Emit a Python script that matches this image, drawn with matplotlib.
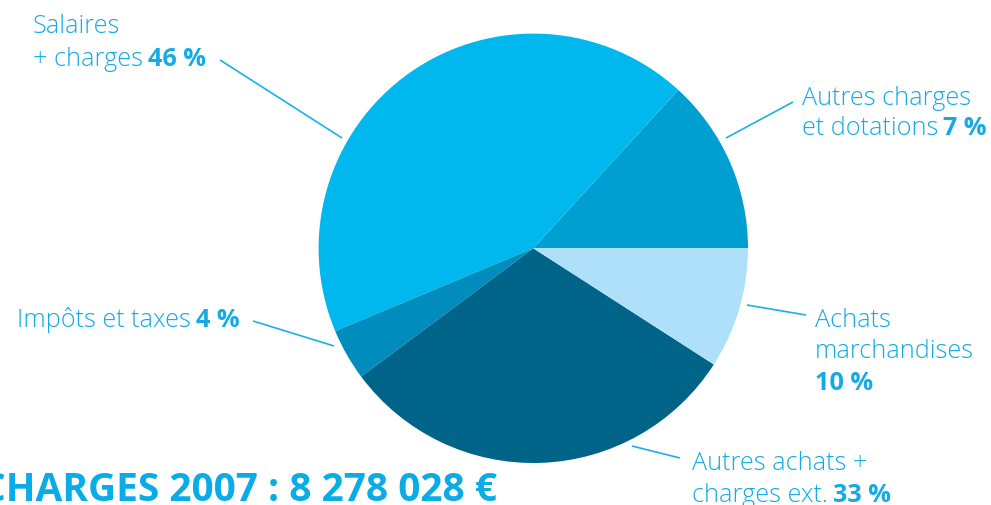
import matplotlib
matplotlib.use("Agg")
import matplotlib.pyplot as plt
from matplotlib.font_manager import FontProperties

# ---- data ----
categories = ["Autres charges et dotations", "Salaires + charges", "Impôts et taxes",
              "Autres achats + charges ext.", "Achats marchandises"]
drawn_shares = [13.2, 43.1, 3.9, 30.7, 9.1]      # slice sizes as drawn in the picture
label_pcts = ["7 %", "46 %", "4 %", "33 %", "10 %"]
colors = ["#009FD1", "#00B8EE", "#008DBD", "#006488", "#AEE0F9"]
title = "CHARGES 2007 : 8 278 028 €"

W, H = 991, 506
TXT = "#14AAE5"
LINE = "#19B1EA"

fig = plt.figure(figsize=(W / 100, H / 100), dpi=100)
ax = fig.add_axes([0, 0, 1, 1])
wedges, _ = ax.pie(drawn_shares, colors=colors, startangle=0, counterclock=True,
                   center=(533.3, H - 249.3), radius=214.7,
                   wedgeprops=dict(linewidth=0))
ax.set_xlim(0, W)
ax.set_ylim(0, H)
ax.set_aspect("auto")
ax.axis("off")

light = FontProperties(family="Open Sans", weight="light", size=18.2)
bold = FontProperties(family="Open Sans", weight="bold", size=18.2)
titlefp = FontProperties(family="Open Sans", weight="bold", size=28)

renderer = fig.canvas.get_renderer()


def mixed(x, y, lt=None, bt=None, gap=5):
    yy = H - y
    cx = x
    if lt:
        t = ax.text(cx, yy, lt, fontproperties=light, color=TXT, va="baseline", ha="left")
        bb = t.get_window_extent(renderer)
        cx = bb.x1 + gap
    if bt:
        ax.text(cx, yy, bt, fontproperties=bold, color=TXT, va="baseline", ha="left")


def leader(x1, y1, x2, y2):
    ax.plot([x1, x2], [H - y1, H - y2], color=LINE, lw=1.2, solid_capstyle="butt")


# Salaires
mixed(33, 33, "Salaires")
mixed(33, 66, "+ charges", label_pcts[1])
leader(220, 61, 342, 139)

# Autres charges et dotations
mixed(802, 105, "Autres charges")
mixed(802, 135, "et dotations", label_pcts[0])
leader(793, 103, 726, 139)

# Impôts et taxes
mixed(17, 327, "Impôts et taxes", label_pcts[2])
leader(253, 322, 334, 347)

# Achats marchandises
mixed(815, 327, "Achats")
mixed(815, 358, "marchandises")
mixed(815, 390, None, label_pcts[4])
leader(747, 306, 806, 316)

# Autres achats + charges ext.
mixed(692, 470, "Autres achats +")
mixed(692, 502, "charges ext.", label_pcts[3])
leader(632, 447, 680, 459)

# Total
ax.text(497, H - 501, title, fontproperties=titlefp, color="#0AACE8",
        ha="right", va="baseline")

fig.savefig("out.png", dpi=100)
